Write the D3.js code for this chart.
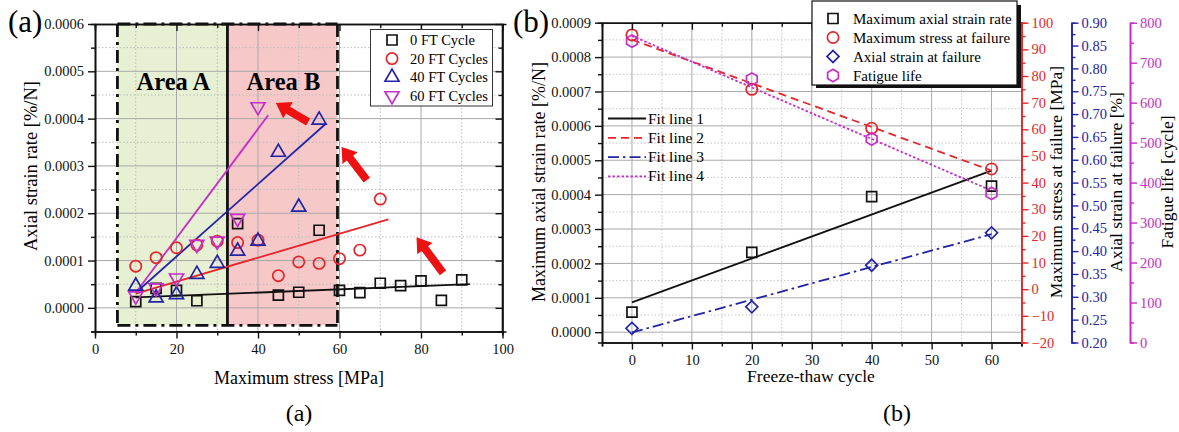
<!DOCTYPE html>
<html>
<head>
<meta charset="utf-8">
<script src="https://cdn.jsdelivr.net/npm/d3@7"></script>
<style>
  body { margin: 0; background: #fff; }
  svg, svg text { font-family: "Liberation Serif", "DejaVu Serif", serif; }
</style>
</head>
<body>
<svg id="chart" width="1179" height="432"></svg>
<script>
// ---- panel (a): axial strain rate vs maximum stress ----
const s0x = [10, 15, 20, 25, 35, 45, 50, 55, 60, 65, 70, 75, 80, 85, 90];
const s0y = [0.000013, 0.000041, 0.000037, 0.000015, 0.000178, 0.000027, 0.000033, 0.000164, 0.000037, 0.000032, 0.000052, 0.000047, 0.000057, 0.000016, 0.000059];
const s20x = [10, 15, 20, 25, 30, 35, 40, 45, 50, 55, 60, 65, 70];
const s20y = [0.000088, 0.000106, 0.000127, 0.000133, 0.000141, 0.000138, 0.000143, 0.000068, 0.000097, 0.000094, 0.000104, 0.000122, 0.00023];
const s40x = [10, 15, 20, 25, 30, 35, 40, 45, 50, 55];
const s40y = [0.000046, 0.000021, 0.000028, 0.000071, 0.000094, 0.00012, 0.000141, 0.000329, 0.000213, 0.000397];
const s60x = [10, 15, 20, 25, 30, 35, 40];
const s60y = [0.000025, 0.000042, 0.000063, 0.000134, 0.000141, 0.000189, 0.000425];

// fit lines (a), end points
const fitAx = [[10, 92], [10, 72], [10, 56.5], [10, 42.5]];
const fitAy = [[0.000022, 0.00005], [0.00003, 0.000187], [0.000032, 0.000388], [0.000032, 0.000407]];

const legendA = ['0 FT Cycle', '20 FT Cycles', '40 FT Cycles', '60 FT Cycles'];

// shaded areas and arrows (data coords)
const areaNames = ['Area A', 'Area B'];
const areaX = [[5.5, 32.5], [32.5, 59.5]];
const areaBottom = -0.000037;
const arrowFrom = [[52.3, 0.000393], [66.7, 0.00027], [85.4, 0.000074]];
const arrowTo = [[44.4, 0.000433], [60.5, 0.00034], [78.9, 0.000149]];

// ---- panel (b): properties vs freeze-thaw cycle ----
const cycles = [0, 20, 40, 60];
const maxRate = [0.0000586, 0.000232, 0.000394, 0.000425];
const maxStress = [95.4, 75, 60.4, 45.1];
const strainFail = [0.231, 0.278, 0.369, 0.44];
const fatigueLife = [754, 659, 509, 373];
const fitX = [0, 60];
const fitRate = [0.0000865, 0.00047];
const fitStress = [93.6, 44.5];
const fitStrain = [0.222, 0.437];
const fitLife = [767, 380];
const legendB = ['Maximum axial strain rate', 'Maximum stress at failure', 'Axial strain at failure', 'Fatigue life'];
const fitNames = ['Fit line 1', 'Fit line 2', 'Fit line 3', 'Fit line 4'];

const RED = '#e3262c', BLUE = '#2323a6', MAG = '#c52ec8', BLACK = '#111';
const FONT = '"Liberation Serif", "DejaVu Serif", serif';

const svg = d3.select('#chart').attr('font-family', FONT);

const symPath = (type, size) => d3.symbol().type(type).size(size)();
const hexPath = r => 'M' + d3.range(6).map(i => {
  const a = Math.PI / 3 * i - Math.PI / 2;
  return [r * Math.cos(a), r * Math.sin(a)].join(',');
}).join('L') + 'Z';

// marker kinds: square, circle, up-triangle, down-triangle, diamond, hexagon
const marker = (g, kind, x, y, color) => {
  let d, rot = 0;
  if (kind === 'sq') d = symPath(d3.symbolSquare, 100);
  if (kind === 'ci') d = symPath(d3.symbolCircle, 100);
  if (kind === 'up') d = symPath(d3.symbolTriangle, 85);
  if (kind === 'dn') { d = symPath(d3.symbolTriangle, 85); rot = 180; }
  if (kind === 'di') { d = symPath(d3.symbolSquare, 72); rot = 45; }
  if (kind === 'hx') d = hexPath(6.2);
  g.append('path')
    .attr('d', d)
    .attr('transform', `translate(${x},${y}) rotate(${rot})`)
    .attr('fill', 'none')
    .attr('stroke', color)
    .attr('stroke-width', 1.7);
};

const styleAxis = (g, color, size = 14.5) => {
  g.attr('font-family', FONT);
  g.select('.domain').attr('stroke', color).attr('stroke-width', 1.6);
  g.selectAll('.tick line').attr('stroke', color).attr('stroke-width', 1.4);
  g.selectAll('.tick text').attr('fill', color).attr('font-size', size)
    .attr('font-family', FONT);
};

const label = (x, y, t, size, opts = {}) => svg.append('text')
  .attr('x', x).attr('y', y)
  .attr('transform', opts.rot ? `rotate(-90,${x},${y})` : null)
  .attr('text-anchor', opts.anchor || 'middle')
  .attr('font-family', FONT)
  .attr('font-size', size)
  .text(t);

const arrowPath = (x1, y1, x2, y2) => {
  const dx = x2 - x1, dy = y2 - y1, L = Math.hypot(dx, dy);
  const ux = dx / L, uy = dy / L, nx = -uy, ny = ux;
  const sw = 4, hw = 9.5, hl = 14;
  const bx = x2 - ux * hl, by = y2 - uy * hl;
  const p = [
    [x1 + nx * sw, y1 + ny * sw], [bx + nx * sw, by + ny * sw], [bx + nx * hw, by + ny * hw],
    [x2, y2], [bx - nx * hw, by - ny * hw], [bx - nx * sw, by - ny * sw], [x1 - nx * sw, y1 - ny * sw]
  ];
  return 'M' + p.map(q => q.join(',')).join('L') + 'Z';
};

// =============== PANEL A ===============
const xA = d3.scaleLinear().domain([0, 100]).range([95, 502.5]);
const yA = d3.scaleLinear().domain([-0.00005, 0.0006]).range([331.5, 24]);
const gA = svg.append('g');

// area fills
const areaFill = ['#e7f0d2', '#f6c8c8'];
areaX.forEach((ax, i) => {
  gA.append('rect')
    .attr('x', xA(ax[0])).attr('y', yA(0.0006))
    .attr('width', xA(ax[1]) - xA(ax[0]))
    .attr('height', yA(areaBottom) - yA(0.0006))
    .attr('fill', areaFill[i]);
});

// grid
const gridA = gA.append('g');
[10, 30, 50, 70, 90].forEach(v => gridA.append('line')
  .attr('x1', xA(v)).attr('x2', xA(v)).attr('y1', yA(0.0006)).attr('y2', yA(-0.00005))
  .attr('stroke', '#bbb').attr('stroke-dasharray', '1.5,2'));
d3.range(-0.00005, 0.00059, 0.0001).forEach(v => gridA.append('line')
  .attr('x1', xA(0)).attr('x2', xA(100)).attr('y1', yA(v)).attr('y2', yA(v))
  .attr('stroke', '#bbb').attr('stroke-dasharray', '1.5,2'));
[20, 40, 60, 80].forEach(v => gridA.append('line')
  .attr('x1', xA(v)).attr('x2', xA(v)).attr('y1', yA(0.0006)).attr('y2', yA(-0.00005))
  .attr('stroke', '#a9a9a9').attr('stroke-width', 1));
d3.range(0, 0.00055, 0.0001).forEach(v => gridA.append('line')
  .attr('x1', xA(0)).attr('x2', xA(100)).attr('y1', yA(v)).attr('y2', yA(v))
  .attr('stroke', '#a9a9a9').attr('stroke-width', 1));

// area borders
const dashDot = '13,5,3,5';
const borderA = gA.append('g').attr('stroke', BLACK).attr('stroke-width', 2.8).attr('fill', 'none');
borderA.append('line').attr('x1', xA(areaX[0][0])).attr('x2', xA(areaX[0][0]))
  .attr('y1', yA(0.0006)).attr('y2', yA(areaBottom)).attr('stroke-dasharray', dashDot);
borderA.append('line').attr('x1', xA(areaX[1][1])).attr('x2', xA(areaX[1][1]))
  .attr('y1', yA(0.0006)).attr('y2', yA(areaBottom)).attr('stroke-dasharray', dashDot);
borderA.append('line').attr('x1', xA(areaX[0][1])).attr('x2', xA(areaX[0][1]))
  .attr('y1', yA(0.0006)).attr('y2', yA(areaBottom));
[0.0006, areaBottom].forEach(v => borderA.append('line')
  .attr('x1', xA(areaX[0][0])).attr('x2', xA(areaX[1][1]))
  .attr('y1', yA(v)).attr('y2', yA(v)).attr('stroke-dasharray', dashDot));

areaNames.forEach((n, i) => {
  gA.append('text')
    .attr('x', xA((areaX[i][0] + areaX[i][1]) / 2) + (i === 0 ? 1 : 1))
    .attr('y', 90)
    .attr('text-anchor', 'middle')
    .attr('font-family', FONT)
    .attr('font-size', 24.5).attr('font-weight', 'bold')
    .text(n);
});

// fit lines
const fitColA = [BLACK, RED, BLUE, MAG];
fitAx.forEach((fx, i) => {
  gA.append('line')
    .attr('x1', xA(fx[0])).attr('y1', yA(fitAy[i][0]))
    .attr('x2', xA(fx[1])).attr('y2', yA(fitAy[i][1]))
    .attr('stroke', fitColA[i]).attr('stroke-width', 1.8);
});

// markers
const seriesA = [
  { x: s0x, y: s0y, kind: 'sq', color: BLACK },
  { x: s20x, y: s20y, kind: 'ci', color: RED },
  { x: s40x, y: s40y, kind: 'up', color: BLUE },
  { x: s60x, y: s60y, kind: 'dn', color: MAG }
];
seriesA.forEach(s => s.x.forEach((v, j) => marker(gA, s.kind, xA(v), yA(s.y[j]), s.color)));

// arrows
arrowFrom.forEach((f, i) => {
  gA.append('path')
    .attr('d', arrowPath(xA(f[0]), yA(f[1]), xA(arrowTo[i][0]), yA(arrowTo[i][1])))
    .attr('fill', '#ee1111');
});

// axes
const axA = gA.append('g');
const bottomA = axA.append('g').attr('transform', `translate(0,${yA(-0.00005)})`)
  .call(d3.axisBottom(xA).tickValues([0, 20, 40, 60, 80, 100]).tickSize(7).tickSizeOuter(0).tickPadding(5));
styleAxis(bottomA, BLACK);
const bottomAm = axA.append('g').attr('transform', `translate(0,${yA(-0.00005)})`)
  .call(d3.axisBottom(xA).tickValues([10, 30, 50, 70, 90]).tickSize(4).tickFormat(''));
styleAxis(bottomAm, BLACK);
const leftA = axA.append('g').attr('transform', `translate(${xA(0)},0)`)
  .call(d3.axisLeft(yA).tickValues(d3.range(0, 0.00061, 0.0001)).tickFormat(d3.format('.4f'))
    .tickSize(7).tickSizeOuter(0).tickPadding(4));
styleAxis(leftA, BLACK);
const leftAm = axA.append('g').attr('transform', `translate(${xA(0)},0)`)
  .call(d3.axisLeft(yA).tickValues(d3.range(-0.00005, 0.0006, 0.0001)).tickSize(4).tickFormat(''));
styleAxis(leftAm, BLACK);
const rightA = axA.append('g').attr('transform', `translate(${xA(100)},0)`)
  .call(d3.axisLeft(yA).tickValues(d3.range(0, 0.00061, 0.0001)).tickSize(-7).tickSizeOuter(0).tickFormat(''));
styleAxis(rightA, BLACK);
const rightAm = axA.append('g').attr('transform', `translate(${xA(100)},0)`)
  .call(d3.axisLeft(yA).tickValues(d3.range(-0.00005, 0.0006, 0.0001)).tickSize(-4).tickFormat(''));
styleAxis(rightAm, BLACK);
rightA.select('.domain').attr('d', `M0,${yA(-0.00005)}V${yA(0.0006)}`);
rightA.selectAll('.tick line').attr('x2', -7);
rightAm.selectAll('.tick line').attr('x2', -4);
const topA = axA.append('g').attr('transform', `translate(0,${yA(0.0006)})`)
  .call(d3.axisTop(xA).tickValues([0, 20, 40, 60, 80, 100]).tickSize(-7).tickSizeOuter(0).tickFormat(''));
styleAxis(topA, BLACK);
const topAm = axA.append('g').attr('transform', `translate(0,${yA(0.0006)})`)
  .call(d3.axisTop(xA).tickValues([10, 30, 50, 70, 90]).tickSize(-4).tickFormat(''));
styleAxis(topAm, BLACK);

// legend (a)
const legA = gA.append('g');
legA.append('rect').attr('x', 370.5).attr('y', 29.5).attr('width', 122).attr('height', 76.5)
  .attr('fill', '#fff').attr('stroke', '#333').attr('stroke-width', 1);
legendA.forEach((t, i) => {
  const y = 40 + i * 18.6;
  marker(legA, seriesA[i].kind, 392, y, seriesA[i].color);
  legA.append('text').attr('x', 410).attr('y', y + 5).attr('font-family', FONT)
    .attr('font-size', 14.5).text(t);
});

// labels (a)
label(8, 32, '(a)', 31, { anchor: 'start' });
label(37, 166, 'Axial strain rate [%/N]', 18.5, { rot: true });
label(299, 384, 'Maximum stress [MPa]', 18);
label(299, 421, '(a)', 24);

// =============== PANEL B ===============
const xB = d3.scaleLinear().domain([-5, 65]).range([602, 1021.5]);
const yB = d3.scaleLinear().domain([-0.00003, 0.0009]).range([342.5, 22.7]);
const yRed = d3.scaleLinear().domain([-20, 100]).range([342.5, 22.7]);
const yBlue = d3.scaleLinear().domain([0.2, 0.9]).range([342.5, 22.7]);
const yMag = d3.scaleLinear().domain([0, 800]).range([342.5, 22.7]);
const gB = svg.append('g');

// grid
const gridB = gB.append('g');
d3.range(5, 61, 10).forEach(v => gridB.append('line')
  .attr('x1', xB(v)).attr('x2', xB(v)).attr('y1', yB(0.0009)).attr('y2', yB(-0.00003))
  .attr('stroke', '#c4c4c4').attr('stroke-dasharray', '1.5,2'));
d3.range(0.00005, 0.00089, 0.0001).forEach(v => gridB.append('line')
  .attr('x1', xB(-5)).attr('x2', xB(65)).attr('y1', yB(v)).attr('y2', yB(v))
  .attr('stroke', '#c4c4c4').attr('stroke-dasharray', '1.5,2'));
d3.range(0, 61, 10).forEach(v => gridB.append('line')
  .attr('x1', xB(v)).attr('x2', xB(v)).attr('y1', yB(0.0009)).attr('y2', yB(-0.00003))
  .attr('stroke', '#a9a9a9'));
d3.range(0, 0.00085, 0.0001).forEach(v => gridB.append('line')
  .attr('x1', xB(-5)).attr('x2', xB(65)).attr('y1', yB(v)).attr('y2', yB(v))
  .attr('stroke', '#a9a9a9'));

// fit lines
const fitB = [
  { y: fitRate, sc: yB, color: BLACK, dash: null },
  { y: fitStress, sc: yRed, color: RED, dash: '8,5' },
  { y: fitStrain, sc: yBlue, color: BLUE, dash: '11,4,2.5,4' },
  { y: fitLife, sc: yMag, color: MAG, dash: '2.5,2' }
];
fitB.forEach(f => {
  gB.append('line')
    .attr('x1', xB(fitX[0])).attr('y1', f.sc(f.y[0]))
    .attr('x2', xB(fitX[1])).attr('y2', f.sc(f.y[1]))
    .attr('stroke', f.color).attr('stroke-width', 1.8)
    .attr('stroke-dasharray', f.dash);
});

// markers
const seriesB = [
  { y: maxRate, sc: yB, kind: 'sq', color: BLACK },
  { y: maxStress, sc: yRed, kind: 'ci', color: RED },
  { y: strainFail, sc: yBlue, kind: 'di', color: BLUE },
  { y: fatigueLife, sc: yMag, kind: 'hx', color: MAG }
];
seriesB.forEach(s => cycles.forEach((c, j) => marker(gB, s.kind, xB(c), s.sc(s.y[j]), s.color)));

// axes (b)
const axB = gB.append('g');
const bottomB = axB.append('g').attr('transform', `translate(0,${yB(-0.00003)})`)
  .call(d3.axisBottom(xB).tickValues(d3.range(0, 61, 10)).tickSize(7).tickSizeOuter(0).tickPadding(5));
styleAxis(bottomB, BLACK);
const bottomBm = axB.append('g').attr('transform', `translate(0,${yB(-0.00003)})`)
  .call(d3.axisBottom(xB).tickValues(d3.range(-5, 66, 10)).tickSize(4).tickFormat(''));
styleAxis(bottomBm, BLACK);
const topB = axB.append('g').attr('transform', `translate(0,${yB(0.0009)})`)
  .call(d3.axisTop(xB).tickValues(d3.range(0, 61, 10)).tickSize(-7).tickSizeOuter(0).tickFormat(''));
styleAxis(topB, BLACK);
const topBm = axB.append('g').attr('transform', `translate(0,${yB(0.0009)})`)
  .call(d3.axisTop(xB).tickValues(d3.range(5, 61, 10)).tickSize(-4).tickFormat(''));
styleAxis(topBm, BLACK);
const leftB = axB.append('g').attr('transform', `translate(${xB(-5)},0)`)
  .call(d3.axisLeft(yB).tickValues(d3.range(0, 0.00091, 0.0001)).tickFormat(d3.format('.4f'))
    .tickSize(7).tickSizeOuter(0).tickPadding(4));
styleAxis(leftB, BLACK);
const leftBm = axB.append('g').attr('transform', `translate(${xB(-5)},0)`)
  .call(d3.axisLeft(yB).tickValues(d3.range(0.00005, 0.0009, 0.0001)).tickSize(4).tickFormat(''));
styleAxis(leftBm, BLACK);

const sideAxis = (x, scale, major, minor, fmt, color) => {
  const a = axB.append('g').attr('transform', `translate(${x},0)`)
    .call(d3.axisRight(scale).tickValues(major).tickFormat(fmt).tickSize(7).tickSizeOuter(0).tickPadding(3));
  styleAxis(a, color);
  const m = axB.append('g').attr('transform', `translate(${x},0)`)
    .call(d3.axisRight(scale).tickValues(minor).tickSize(4).tickFormat(''));
  styleAxis(m, color);
};
sideAxis(xB(65), yRed, d3.range(-20, 101, 10), d3.range(-15, 100, 10), d3.format('d'), RED);
sideAxis(1071.5, yBlue, d3.range(0, 15).map(i => 0.2 + i * 0.05), d3.range(0, 14).map(i => 0.225 + i * 0.05), d3.format('.2f'), BLUE);
sideAxis(1130, yMag, d3.range(0, 801, 100), d3.range(50, 800, 100), d3.format('d'), MAG);

// legend (b) with shadow
const legB = gB.append('g');
legB.append('rect').attr('x', 816).attr('y', 5).attr('width', 205).attr('height', 83).attr('fill', BLACK);
legB.append('rect').attr('x', 812).attr('y', 1).attr('width', 205).attr('height', 84)
  .attr('fill', '#fff').attr('stroke', BLACK).attr('stroke-width', 1.2);
legendB.forEach((t, i) => {
  const y = 18.5 + i * 19;
  marker(legB, seriesB[i].kind, 833, y, seriesB[i].color);
  legB.append('text').attr('x', 853).attr('y', y + 5).attr('font-family', FONT)
    .attr('font-size', 15).text(t);
});

// fit line legend
fitNames.forEach((t, i) => {
  const y = 118.5 + i * 19.3;
  gB.append('line').attr('x1', 608).attr('x2', 646).attr('y1', y).attr('y2', y)
    .attr('stroke', fitB[i].color).attr('stroke-width', 1.8).attr('stroke-dasharray', fitB[i].dash);
  gB.append('text').attr('x', 648).attr('y', y + 5).attr('font-family', FONT)
    .attr('font-size', 15.5).text(t);
});

// labels (b)
label(513, 32, '(b)', 31, { anchor: 'start' });
label(545, 182, 'Maximum axial strain rate [%/N]', 18, { rot: true });
label(1062, 182, 'Maximum stress at failure [MPa]', 17.5, { rot: true });
label(1122, 182, 'Axial strain at failure [%]', 17.5, { rot: true });
label(1173, 182, 'Fatigue life [cycle]', 17.5, { rot: true });
label(811, 382, 'Freeze-thaw cycle', 17.5);
label(897, 421, '(b)', 24);
</script>
</body>
</html>
